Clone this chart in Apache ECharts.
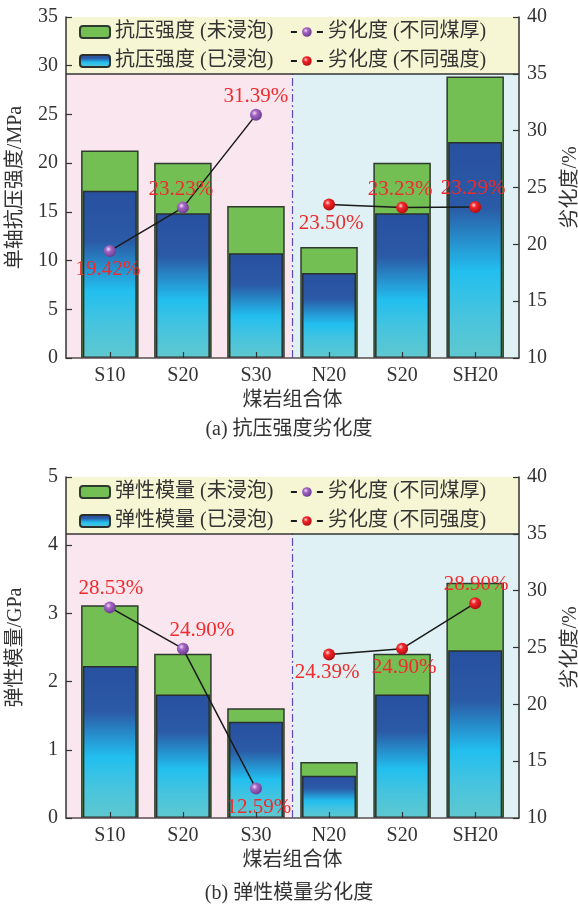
<!DOCTYPE html>
<html><head><meta charset="utf-8">
<script src="https://cdn.jsdelivr.net/npm/echarts@6/dist/echarts.min.js"></script>
<style>html,body{margin:0;padding:0;background:#fff}#c{width:578px;height:907px}</style>
</head><body><div id="c"></div>
<script>
const categories = ['S10','S20','S30','N20','S20','SH20'];
// chart (a)
const ucsDry = [21.3, 20.05, 15.6, 11.4, 20.05, 28.9];
const ucsWet = [17.16, 14.85, 10.75, 8.72, 14.85, 22.17];
const degThickA = [19.42, 23.23, 31.39];      // S10,S20,S30
const degStrengthA = [23.50, 23.23, 23.29];   // N20,S20,SH20
const labelPosA = [['bottom','top','top'],['bottom','top','top']];
const labelOffA = [[[-2,0],[-2,0],[0,0]],[[2,0],[-2,0],[-2,0]]];
// chart (b)
const emDry = [3.12, 2.41, 1.61, 0.82, 2.41, 3.45];
const emWet = [2.23, 1.81, 1.41, 0.62, 1.81, 2.46];
const degThickB = [28.53, 24.90, 12.59];
const degStrengthB = [24.39, 24.90, 28.90];
const labelPosB = [['top','top','bottom'],['bottom','bottom','top']];
const labelOffB = [[[1,0],[19,0],[3,0]],[[-2,0],[2,0],[1,0]]];
const leftTicksA = [0,5,10,15,20,25,30,35];
const leftTicksB = [0,1,2,3,4,5];

const FONT = '"Liberation Serif","Noto Sans CJK SC",serif';
const TXT = '#333';
const green = '#74bf54';
const blueGrad = new echarts.graphic.LinearGradient(0,0,0,1,[
  {offset:0,color:'#2850a0'},{offset:0.3,color:'#2b5aa6'},{offset:0.6,color:'#22bfef'},
  {offset:0.8,color:'#47c4de'},{offset:1,color:'#5fc8cf'}]);
const purpleBall = {type:'radial',x:0.38,y:0.35,r:0.65,colorStops:[
  {offset:0,color:'#f3dcf7'},{offset:0.35,color:'#a466c4'},{offset:1,color:'#6b3d92'}]};
const redBall = {type:'radial',x:0.38,y:0.35,r:0.65,colorStops:[
  {offset:0,color:'#ffd6d6'},{offset:0.35,color:'#f2262a'},{offset:1,color:'#b20e12'}]};

const grids = [
  {left:66, right:59, top:17, height:341, containLabel:false, outerBoundsMode:'none'},
  {left:66, right:59, top:477, height:341, containLabel:false, outerBoundsMode:'none'}
];

function xAxisPair(gi){
  const base = {gridIndex:gi, type:'value', min:-0.6, max:5.6, splitLine:{show:false}};
  return [
    Object.assign({}, base, {
      z:10,
      name:'煤岩组合体', nameLocation:'middle', nameGap:33,
      nameTextStyle:{fontFamily:FONT, fontSize:20, color:TXT},
      axisLine:{onZero:false, lineStyle:{color:'#5a4f4f', width:1.5}},
      axisTick:{inside:true, length:6, customValues:[0,1,2,3,4,5], lineStyle:{color:'#333', width:1.2}},
      axisLabel:{customValues:[0,1,2,3,4,5], formatter:v=>categories[Math.round(v)], fontFamily:FONT, fontSize:20, color:TXT, margin:8}
    }),
    Object.assign({}, base, {show:false, axisLine:{onZero:false}})
  ];
}
function yAxes(gi, max, interval, name, ticks){
  return [
    {gridIndex:gi, type:'value', min:0, max:max, interval:interval, position:'left', z:10,
     name:name, nameLocation:'middle', nameGap:40, nameRotate:90,
     nameTextStyle:{fontFamily:FONT, fontSize:20, color:TXT},
     axisLine:{show:true, onZero:false, lineStyle:{color:'#333', width:1.5}},
     axisTick:{show:true, inside:true, length:6, lineStyle:{color:'#333', width:1.2}},
     axisLabel:{fontFamily:FONT, fontSize:20, color:TXT, margin:8, customValues:ticks},
     splitLine:{show:false}},
    {gridIndex:gi, type:'value', min:10, max:40, interval:5, position:'right', z:10,
     name:'劣化度/%', nameLocation:'middle', nameGap:42, nameRotate:90,
     nameTextStyle:{fontFamily:FONT, fontSize:20, color:TXT},
     axisLine:{show:true, onZero:false, lineStyle:{color:'#333', width:1.5}},
     axisTick:{show:true, inside:true, length:6, lineStyle:{color:'#333', width:1.2}},
     axisLabel:{fontFamily:FONT, fontSize:20, color:TXT, margin:8},
     splitLine:{show:false}}
  ];
}

function seriesFor(gi, dryName, wetName, dry, wet, thick, strength, pos, offs){
  const xa = gi*2, ya = gi*2;
  const out = [];
  out.push({type:'line', xAxisIndex:xa, yAxisIndex:ya+1, data:[], z:0, silent:true,
    markArea:{silent:true, data:[
      [{xAxis:-0.6, yAxis:10, itemStyle:{color:'#f9e6ee'}},{xAxis:2.5, yAxis:35}],
      [{xAxis:2.5, yAxis:10, itemStyle:{color:'#dff1f4'}},{xAxis:5.6, yAxis:35}],
      [{xAxis:-0.6, yAxis:35, itemStyle:{color:'#f7f6d4'}},{xAxis:5.6, yAxis:40}]
    ]},
    markLine:{silent:true, symbol:'none', label:{show:false}, data:[
      [{xAxis:2.5, yAxis:10, lineStyle:{color:'#5b4fc8', width:1.2, type:[8,3,2,3]}},{xAxis:2.5, yAxis:35}],
      [{xAxis:-0.6, yAxis:35, lineStyle:{color:'#333', width:1.5, type:'solid'}},{xAxis:5.6, yAxis:35}]
    ]}
  });
  out.push({type:'bar', name:dryName, xAxisIndex:xa, yAxisIndex:ya, barWidth:57.5, z:2,
    itemStyle:{color:green, borderColor:'#2e3a2e', borderWidth:1.5},
    data:dry.map((v,i)=>[i,v])});
  out.push({type:'bar', name:wetName, xAxisIndex:xa+1, yAxisIndex:ya, barWidth:54, z:3,
    itemStyle:{color:blueGrad, borderColor:'#2a2f2f', borderWidth:1.5},
    data:wet.map((v,i)=>[i,v])});
  const mkLine = (name, vals, offset, ball, ps, os) => ({
    type:'line', name:name, xAxisIndex:xa, yAxisIndex:ya+1, z:5,
    symbol:'circle', symbolSize:12,
    itemStyle:{color:ball}, lineStyle:{color:'#1a1a1a', width:1.5},
    label:{show:true, formatter:p=>p.value[1].toFixed(2)+'%', fontFamily:FONT, fontSize:21, color:'#ef2b2d', distance:2},
    data:vals.map((v,i)=>({value:[i+offset, v], label:{position:ps[i], offset:os[i]}}))
  });
  out.push(mkLine('劣化度 (不同煤厚)', thick, 0, purpleBall, pos[0], offs[0]));
  out.push(mkLine('劣化度 (不同强度)', strength, 3, redBall, pos[1], offs[1]));
  return out;
}

function legends(topY, dryName, wetName){
  const ts = {fontFamily:FONT, fontSize:20, color:TXT};
  return [
    {orient:'vertical', left:79, top:topY, padding:0, itemGap:9, itemWidth:30, itemHeight:12, textStyle:ts, data:[dryName, wetName], selectedMode:false},
    {orient:'vertical', left:290, top:topY, padding:0, itemGap:9, itemWidth:32, itemHeight:12, textStyle:ts,
     lineStyle:{type:[6,20], width:1.8}, data:['劣化度 (不同煤厚)','劣化度 (不同强度)'], selectedMode:false}
  ];
}

const chart = echarts.init(document.getElementById('c'), null, {renderer:'canvas'});
chart.setOption({
  animation:false,
  backgroundColor:'#fff',
  grid:grids,
  title:[
    {text:'(a) 抗压强度劣化度', left:'center', top:420, padding:0, textStyle:{fontFamily:FONT, fontSize:20, fontWeight:'normal', color:TXT}},
    {text:'(b) 弹性模量劣化度', left:'center', top:884, padding:0, textStyle:{fontFamily:FONT, fontSize:20, fontWeight:'normal', color:TXT}}
  ],
  legend:[...legends(22,'抗压强度 (未浸泡)','抗压强度 (已浸泡)'), ...legends(482,'弹性模量 (未浸泡)','弹性模量 (已浸泡)')],
  xAxis:[...xAxisPair(0), ...xAxisPair(1)],
  yAxis:[...yAxes(0,35,5,'单轴抗压强度/MPa',leftTicksA), ...yAxes(1,5,1,'弹性模量/GPa',leftTicksB)],
  series:[
    ...seriesFor(0,'抗压强度 (未浸泡)','抗压强度 (已浸泡)',ucsDry,ucsWet,degThickA,degStrengthA,labelPosA,labelOffA),
    ...seriesFor(1,'弹性模量 (未浸泡)','弹性模量 (已浸泡)',emDry,emWet,degThickB,degStrengthB,labelPosB,labelOffB)
  ]
});
</script></body></html>
